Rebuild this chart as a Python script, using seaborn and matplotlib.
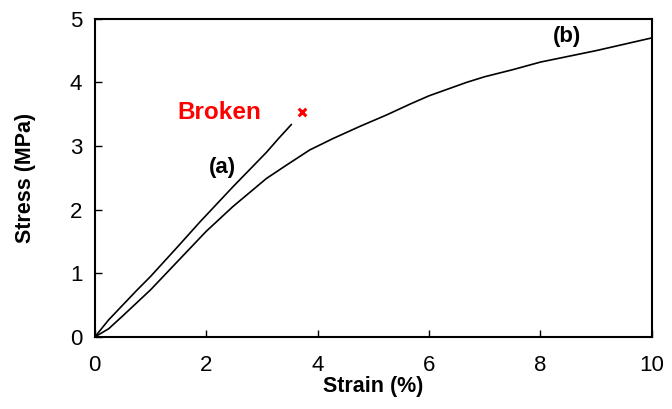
import numpy as np
import pandas as pd
import seaborn as sns
import matplotlib.pyplot as plt

# 曲線 (a): 破断まで
strain_a = [0.0, 0.25, 0.5, 0.75, 1.0, 1.5, 1.89, 2.48, 3.08, 3.3, 3.53]
stress_a = [0.0, 0.27, 0.50, 0.73, 0.95, 1.43, 1.81, 2.36, 2.90, 3.12, 3.34]

# 曲線 (b)
strain_b = [0.0, 0.25, 0.5, 1.0, 1.5, 2.0, 2.48, 3.08, 3.44, 3.86, 4.28, 4.76, 5.24,
            5.66, 6.0, 6.67, 7.0, 7.5, 8.0, 8.5, 9.0, 9.5, 10.0]
stress_b = [0.0, 0.13, 0.33, 0.74, 1.20, 1.66, 2.05, 2.49, 2.70, 2.94, 3.12, 3.31, 3.49,
            3.66, 3.79, 4.00, 4.09, 4.20, 4.32, 4.41, 4.50, 4.60, 4.70]

# 破断点
broken_x = [3.72]
broken_y = [3.54]

df_a = pd.DataFrame({"strain": strain_a, "stress": stress_a})
df_b = pd.DataFrame({"strain": strain_b, "stress": stress_b})

sns.set_style("ticks")
plt.rcParams['font.family'] = ['Liberation Sans', 'DejaVu Sans']
plt.rcParams['text.color'] = 'black'
plt.rcParams['axes.labelcolor'] = 'black'
plt.rcParams['xtick.color'] = 'black'
plt.rcParams['ytick.color'] = 'black'

fig = plt.figure(figsize=(6.72, 4.09), dpi=100)
ax = fig.add_axes([0.141, 0.176, 0.829, 0.778])

sns.lineplot(data=df_a, x="strain", y="stress", color="black", linewidth=1.2,
             sort=False, estimator=None, ax=ax)
sns.lineplot(data=df_b, x="strain", y="stress", color="black", linewidth=1.2,
             sort=False, estimator=None, ax=ax)
ax.scatter(broken_x, broken_y, marker="x", color="red", s=30, linewidths=2.2, zorder=5)

ax.text(2.24, 3.53, "Broken", color="red", fontsize=17.5, fontweight="bold",
        ha="center", va="center")
ax.text(2.3, 2.67, "(a)", color="black", fontsize=16, fontweight="bold",
        ha="center", va="center")
ax.text(8.47, 4.72, "(b)", color="black", fontsize=16, fontweight="bold",
        ha="center", va="center")

ax.set_xlim(0, 10)
ax.set_ylim(0, 5)
ax.set_xticks([0, 2, 4, 6, 8, 10])
ax.set_yticks([0, 1, 2, 3, 4, 5])
ax.tick_params(direction="in", length=5, width=1, labelsize=16, colors="black")
ax.tick_params(axis="x", pad=13)
ax.tick_params(axis="y", pad=9)

for s in ax.spines.values():
    s.set_linewidth(1.5)
    s.set_color("black")

ax.set_xlabel("Strain (%)", fontsize=15.5, fontweight="bold", labelpad=0, color="black")
ax.set_ylabel("Stress (MPa)", fontsize=15.5, fontweight="bold", labelpad=24, color="black")

plt.savefig("out.png", dpi=100)
